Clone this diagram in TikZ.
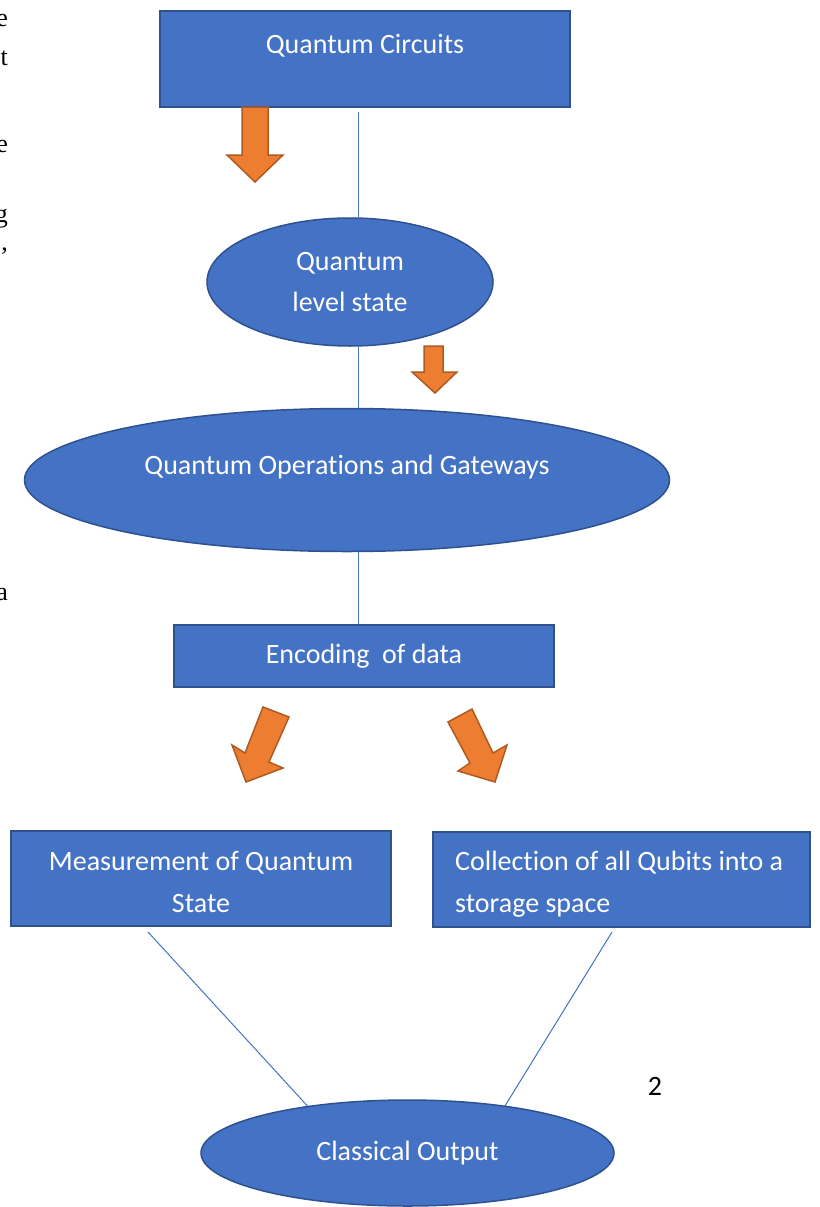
\documentclass[tikz,border=0pt]{standalone}
\usepackage{fontspec}
\setmainfont[Ligatures={NoCommon}]{Carlito}
\newfontfamily\serfont{Liberation Serif}
\usetikzlibrary{shapes.geometric}
\definecolor{boxblue}{HTML}{4472C4}
\definecolor{boxedge}{HTML}{2F528F}
\definecolor{arrfill}{HTML}{ED7D31}
\definecolor{arredge}{HTML}{AE5A21}
\begin{document}
\begin{tikzpicture}[x=1pt,y=-1pt,
  shapebox/.style={draw=boxedge, fill=boxblue, line width=1.5pt, inner sep=0pt, text=white,
    font=\fontsize{28}{41}\selectfont, align=center},
  rectbox/.style={shapebox, rectangle},
  ellbox/.style={shapebox, ellipse},
  label text/.style={text=white, inner sep=0pt, font=\fontsize{28}{42}\selectfont},
  link/.style={draw=boxblue, line width=1pt},
  orangearrow/.style={draw=arredge, fill=arrfill, line width=1.5pt, line join=miter},
  edgeletter/.style={anchor=base east, inner sep=0pt, font=\serfont\fontsize{26}{30}\selectfont}]
\useasboundingbox (0,0) rectangle (819,1207);

% left edge fragments (cut off as in the page)
\node[edgeletter] (f1) at (8,27) {e};
\node[edgeletter] (f2) at (8,66) {t};
\node[edgeletter] (f3) at (8,152) {e};
\node[edgeletter] (f4) at (8,222) {g};
\node[edgeletter] (f5) at (8,250) {,};
\node[edgeletter] (f6) at (8,600) {a};

% connector end points
\coordinate (c1) at (358,112);
\coordinate (c2) at (148,932);
\coordinate (c3) at (612,932);
\coordinate (d2) at (313,1112);
\coordinate (d3) at (500,1114);

% lower links (drawn under the output ellipse)
\draw[link] (c2) -- (d2);
\draw[link] (c3) -- (d3);

% shapes
\node[rectbox, minimum width=410pt, minimum height=96pt] (r1) at (365,59) {};
\node[label text] (t1) at (365,46) {Quantum Circuits};

\node[ellbox, minimum width=286pt, minimum height=128pt] (e2) at (350,282) {Quantum\\level state};

\node[ellbox, minimum width=645pt, minimum height=143pt] (e3) at (347,480) {};
\node[label text] (t3) at (347,467) {Quantum Operations and Gateways};

\node[rectbox, minimum width=380pt, minimum height=62pt] (r4) at (364,656) {Encoding\ \ of data};

\node[rectbox, minimum width=380pt, minimum height=95pt] (r5) at (201,878.5) {};
\node[label text, align=center] (t5) at (201,882) {Measurement of Quantum\\State};

\node[rectbox, minimum width=377pt, minimum height=95pt] (r6) at (621.5,879.5) {};
\node[label text, align=left, anchor=west] (t6) at (455,884) {Collection of all Qubits into a\\storage space};

\node[ellbox, minimum width=413pt, minimum height=106pt] (e7) at (407.5,1153) {Classical Output};

\node[anchor=center, inner sep=0pt, font=\fontsize{28}{30}\selectfont] (n2) at (655,1086) {2};

% upper links
\draw[link] (c1) -- (c1 |- e2.north);
\draw[link] (c1 |- e2.south) -- (c1 |- e3.north);
\draw[link] (c1 |- e3.south) -- (c1 |- r4.north);

% orange arrows
\draw[orangearrow] (242,107) -- (268,107) -- (268,155) -- (283,155) -- (255,182) -- (227,155) -- (242,155) -- cycle;
\draw[orangearrow] (424,346) -- (443,346) -- (443,372) -- (457,372) -- (435,393) -- (412,372) -- (424,372) -- cycle;
\draw[orangearrow] (263,707) -- (289,717) -- (269,762) -- (283,768) -- (246,782) -- (232,745) -- (245,753) -- cycle;
\draw[orangearrow] (472,709) -- (448,722) -- (470,763) -- (458,771) -- (495,782) -- (507,745) -- (493,753) -- cycle;
\end{tikzpicture}
\end{document}
